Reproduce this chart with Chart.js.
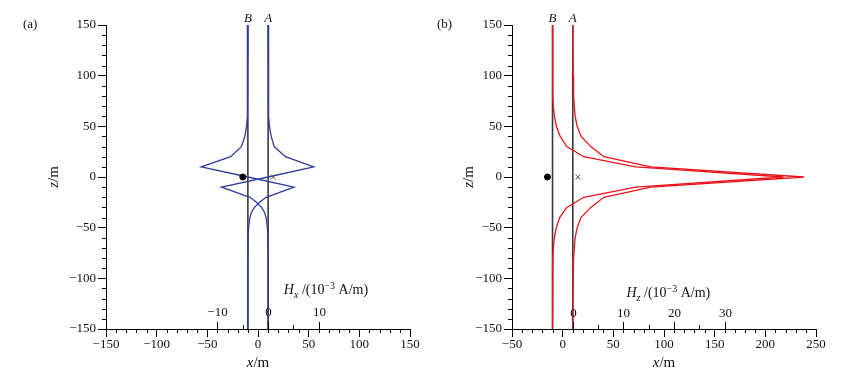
<!DOCTYPE html>
<html>
<head>
<meta charset="utf-8">
<script src="https://cdn.jsdelivr.net/npm/chart.js@4.4.1/dist/chart.umd.min.js"></script>
<style>
    html, body { margin: 0; padding: 0; background: #fff; }
    #wrap { position: relative; width: 853px; height: 372px; overflow: hidden; }
    canvas { position: absolute; top: 0; }
    #chart-a { left: 0; }
    #chart-b { left: 430px; }
</style>
</head>
<body>
<div id="wrap">
    <canvas id="chart-a" width="430" height="372"></canvas>
    <canvas id="chart-b" width="423" height="372"></canvas>
</div>
<script>
// ── Data (x in metres) ─────────────────────────────────────────────────────────
// Panel (a): Hx profiles along boreholes A and B, drawn on the x/m axis
const zHx   = [150, 100, 80, 60, 50, 40, 30, 20, 10, 0, -10, -20, -25, -30, -35, -40, -50, -60, -80, -100, -150];
const hxAtA = [10, 10.2, 10.4, 10.8, 11.3, 13, 16, 27, 55, 10, -36, -8, -1.5, 3.5, 6.5, 8, 9.3, 9.7, 9.9, 10, 10];
const hxAtB = [-10, -10.2, -10.4, -10.8, -11.3, -13, -16.4, -27, -56, -10, 35.5, 8, 1.5, -3.5, -6.5, -8, -9.3, -9.7, -9.9, -10, -10];

// Panel (b): Hz profiles
const zHz   = [150, 100, 80, 70, 60, 50, 40, 30, 20, 10, 0, -10, -20, -30, -40, -50, -60, -70, -80, -100, -150];
const hzAtA = [10, 10.3, 10.8, 11.5, 12.3, 14.3, 18.2, 27.8, 40.6, 87, 238, 87, 40.6, 27.8, 18, 14.3, 12.3, 11.5, 10.8, 10.3, 10];
const hzAtB = [-10, -9.9, -9.6, -9.2, -8.2, -6.2, -2.5, 4.1, 20.8, 72, 218, 72, 20.8, 4.1, -3, -6.2, -8.2, -9.2, -9.6, -9.9, -10];

// Boreholes and source markers
const boreX     = [-10, 10];
const boreNames = ['B', 'A'];
const boreZ     = [-150, 150];
const dotX      = -15;   // filled dot at z = 0
const crossX    = 15;    // × at z = 0

// Secondary field axes (10^-3 A/m)
const hxTicks = [-10, 0, 10];
const hxMinor = [-5, 5];
const hzTicks = [0, 10, 20, 30];
const hzMinor = [5, 15, 25];

const SERIF = '"Liberation Serif", "Times New Roman", serif';
const BLUE  = '#2e3d9a';
const RED   = '#e8141c';

function minus(v) { return String(v).replace('-', '\u2212'); }

function toPoints(xs, zs) { return xs.map((x, i) => ({ x: x, y: zs[i] })); }

// ── Mixed-style text (italic, sub/superscript) ───────────────────────────────
function partFont(p, size) {
    const s = (p.sub || p.sup) ? Math.round(size * 0.72) : size;
    return (p.it ? 'italic ' : '') + s + 'px ' + SERIF;
}

function drawRich(ctx, parts, x, y, size, align) {
    ctx.save();
    ctx.textBaseline = 'alphabetic';
    ctx.textAlign = 'left';
    let total = 0;
    parts.forEach(p => { ctx.font = partFont(p, size); total += ctx.measureText(p.t).width; });
    let cx = align === 'center' ? x - total / 2 : x;
    parts.forEach(p => {
        ctx.font = partFont(p, size);
        const dy = p.sub ? size * 0.25 : (p.sup ? -size * 0.38 : 0);
        ctx.fillText(p.t, cx, y + dy);
        cx += ctx.measureText(p.t).width;
    });
    ctx.restore();
}

function tickLine(ctx, x1, y1, x2, y2) {
    ctx.beginPath();
    ctx.moveTo(x1, y1);
    ctx.lineTo(x2, y2);
    ctx.stroke();
}

// ── Plugin: minor ticks, secondary field axis, labels ────────────────────────
const decorPlugin = {
    id: 'decor',
    afterDraw(chart, args, o) {
        const ctx = chart.ctx;
        const area = chart.chartArea;
        const xs = chart.scales.x, ys = chart.scales.y, hs = chart.scales.h;
        ctx.save();
        ctx.strokeStyle = '#000';
        ctx.lineWidth = 1;
        ctx.fillStyle = '#111';

        // minor ticks on the main axes
        xs.ticks.forEach(t => {
            if (t.value % 50 === 0) return;
            const px = Math.round(xs.getPixelForValue(t.value)) + 0.5;
            tickLine(ctx, px, area.bottom, px, area.bottom + 4);
        });
        ys.ticks.forEach(t => {
            if (t.value % 50 === 0) return;
            const py = Math.round(ys.getPixelForValue(t.value)) + 0.5;
            tickLine(ctx, area.left, py, area.left - 4, py);
        });

        // secondary field axis, ticks pointing up from the x axis
        o.fieldTicks.forEach(v => {
            const px = Math.round(hs.getPixelForValue(v)) + 0.5;
            tickLine(ctx, px, area.bottom, px, area.bottom - 7);
            ctx.font = '13px ' + SERIF;
            ctx.textAlign = 'center';
            ctx.textBaseline = 'alphabetic';
            ctx.fillText(minus(v), px, o.fieldLabelY);
        });
        o.fieldMinor.forEach(v => {
            const px = Math.round(hs.getPixelForValue(v)) + 0.5;
            tickLine(ctx, px, area.bottom, px, area.bottom - 4);
        });
        drawRich(ctx, [
            { t: 'H', it: true }, { t: o.fieldSub, it: true, sub: true },
            { t: ' /(10' }, { t: '\u22123', sup: true }, { t: ' A/m)' }
        ], hs.getPixelForValue(o.fieldTitleAt), o.fieldTitleY, 14, 'left');

        // borehole names above the lines
        boreX.forEach((bx, i) => {
            drawRich(ctx, [{ t: boreNames[i], it: true }], xs.getPixelForValue(bx), area.top - 3, 13, 'center');
        });

        // panel tag and axis titles
        drawRich(ctx, [{ t: o.tag }], o.tagX, 28, 13, 'left');
        drawRich(ctx, [{ t: 'x', it: true }, { t: '/m' }], (area.left + area.right) / 2, 367, 15, 'center');
        ctx.save();
        ctx.translate(o.zTitleX, (area.top + area.bottom) / 2);
        ctx.rotate(-Math.PI / 2);
        drawRich(ctx, [{ t: 'z', it: true }, { t: '/m' }], 0, 0, 15, 'center');
        ctx.restore();

        ctx.restore();
    }
};

function curve(xs, zs, color) {
    return { data: toPoints(xs, zs), showLine: true, borderColor: color, borderWidth: 1.3, pointRadius: 0, tension: 0, fill: false };
}

function boreLine(x) {
    return { data: toPoints([x, x], boreZ), showLine: true, borderColor: '#3a3a3a', borderWidth: 1.6, pointRadius: 0, fill: false };
}

function makePanel(canvasId, p) {
    const datasets = [
        { data: [{ x: dotX, y: 0 }], pointRadius: 3, pointBackgroundColor: '#000', pointBorderColor: '#000', showLine: false },
        { data: [{ x: crossX, y: 0 }], pointStyle: 'crossRot', pointRadius: 3.5, pointBorderColor: '#555', pointBorderWidth: 1, showLine: false },
        curve(p.xA, p.z, p.color),
        curve(p.xB, p.z, p.color),
        boreLine(boreX[0]),
        boreLine(boreX[1])
    ];

    const tickFont = { family: SERIF, size: 13 };
    const majorColor = c => (c.tick && c.tick.value % 50 === 0) ? '#000' : 'rgba(0,0,0,0)';
    const label = v => (v % 50 === 0 ? minus(v) : '');

    return new Chart(document.getElementById(canvasId), {
        type: 'scatter',
        data: { datasets },
        options: {
            responsive: false,
            animation: false,
            devicePixelRatio: 1,
            layout: { padding: { left: 0, top: 25, right: p.padRight, bottom: 0 } },
            plugins: {
                legend: { display: false },
                tooltip: { enabled: false },
                decor: p.decor
            },
            scales: {
                x: {
                    type: 'linear', min: p.xMin, max: p.xMax,
                    afterFit: s => { s.height = 43; },
                    border: { color: '#000', width: 1 },
                    grid: { drawOnChartArea: false, tickLength: 8, tickColor: majorColor },
                    ticks: { stepSize: 10, maxTicksLimit: 100, autoSkip: false, maxRotation: 0, padding: 0, color: '#111', font: tickFont, callback: label }
                },
                y: {
                    type: 'linear', min: -150, max: 150,
                    afterFit: s => { s.width = p.yWidth; },
                    border: { color: '#000', width: 1 },
                    grid: { drawOnChartArea: false, tickLength: 8, tickColor: majorColor },
                    ticks: { stepSize: 10, maxTicksLimit: 100, autoSkip: false, padding: 2, color: '#111', font: tickFont, callback: label }
                },
                // field axis: 0 sits on borehole A (x = 10 m), 1 unit = 5 m
                h: { type: 'linear', axis: 'x', position: 'bottom', display: false, min: p.hMin, max: p.hMax }
            }
        },
        plugins: [decorPlugin]
    });
}

makePanel('chart-a', {
    z: zHx, xA: hxAtA, xB: hxAtB, color: BLUE,
    xMin: -150, xMax: 150, hMin: -32, hMax: 28,
    padRight: 20, yWidth: 106,
    decor: { tag: '(a)', tagX: 23, zTitleX: 58, fieldTicks: hxTicks, fieldMinor: hxMinor, fieldSub: 'x', fieldLabelY: 316, fieldTitleAt: 3.1, fieldTitleY: 294 }
});

makePanel('chart-b', {
    z: zHz, xA: hzAtA, xB: hzAtB, color: RED,
    xMin: -50, xMax: 250, hMin: -12, hMax: 48,
    padRight: 37, yWidth: 82,
    decor: { tag: '(b)', tagX: 7, zTitleX: 43, fieldTicks: hzTicks, fieldMinor: hzMinor, fieldSub: 'z', fieldLabelY: 317, fieldTitleAt: 10.6, fieldTitleY: 297 }
});
</script>
</body>
</html>
